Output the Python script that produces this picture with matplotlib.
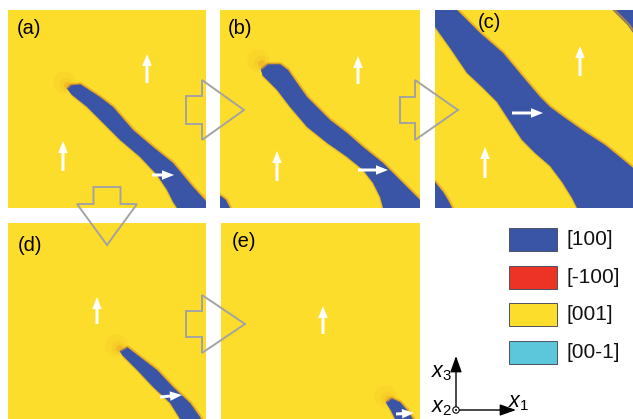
import matplotlib
matplotlib.use("Agg")
import matplotlib.pyplot as plt
from matplotlib.patches import Polygon, Rectangle, Circle

plt.rcParams["font.family"] = ["Liberation Sans", "DejaVu Sans"]
plt.rcParams["mathtext.fontset"] = "custom"
plt.rcParams["mathtext.it"] = "Liberation Sans:italic"
plt.rcParams["mathtext.rm"] = "Liberation Sans"

W, H = 633, 419
YELLOW = "#FDDD2B"
BLUE = "#3A55A5"
RED = "#EC3326"
CYAN = "#5CC6DA"
EDGE = "#E69A22"
GREY = "#A3A3A3"

# panel boxes in image pixels: x0, y0, x1, y1
panel_names = ["(a)", "(b)", "(c)", "(d)", "(e)"]
panel_boxes = [(8, 10, 206, 208), (220, 10, 420, 208), (435, 10, 640, 208),
               (8, 223, 206, 421), (221, 223, 420, 421)]
label_pos = [(17, 29), (228, 29), (478, 23), (18, 245), (232, 241)]

# [100] domains (outlines in image pixels); "upper" is the orange-rimmed side
needle_a_upper = [(67, 88), (70, 85), (80, 84), (100, 97), (113, 107), (133, 130),
                  (153, 147), (173, 163), (193, 187), (205, 200), (215, 214)]
needle_a_lower = [(178, 214), (177, 208), (173, 202), (167, 190), (157, 175),
                  (140, 157), (120, 140), (100, 120), (87, 107), (72, 95)]

needle_b_upper = [(261, 69), (267, 64), (280, 64), (288, 70), (297, 83), (307, 97),
                  (317, 107), (330, 120), (347, 133), (363, 147), (383, 163),
                  (400, 180), (413, 193), (420, 200), (426, 214)]
needle_b_lower = [(384, 214), (383, 208), (380, 197), (373, 183), (363, 170),
                  (347, 157), (327, 143), (307, 127), (290, 107), (277, 90), (263, 76)]
sliver_b = [(215, 194), (221, 196), (226, 200), (230, 208), (232, 214), (215, 214)]

band_c_upper = [(452, 4), (457, 10), (480, 33), (503, 53), (523, 77), (540, 97),
                (550, 107), (565, 118), (585, 132), (605, 145), (621, 158),
                (633, 168), (645, 176)]
band_c_lower = [(645, 214), (578, 214), (577, 208), (572, 198), (562, 182),
                (550, 166), (535, 153), (522, 140), (510, 122), (497, 102),
                (483, 88), (467, 73), (450, 48), (435, 27), (428, 18), (428, 4)]
corner_c_top = [(610, 4), (613, 10), (620, 17), (628, 25), (633, 32), (645, 42), (645, 4)]
corner_c_bottom = [(428, 178), (435, 182), (443, 192), (448, 200), (452, 208),
                   (454, 214), (428, 214)]

needle_d_upper = [(120, 351), (127, 347), (140, 357), (157, 370), (173, 387),
                  (190, 403), (200, 417), (204, 426)]
needle_d_lower = [(181, 426), (180, 419), (170, 403), (153, 387), (137, 370), (123, 356)]

needle_e_upper = [(386, 402), (391, 398), (400, 402), (407, 410), (413, 419), (416, 426)]
needle_e_lower = [(397, 426), (395, 419), (390, 409)]

tip_glow = [[(64, 82)], [(258, 60)], [], [(116, 345)], [(385, 396)]]

# white polarization arrows: tail -> head
white_arrows = [((147, 83), (147, 54)), ((63, 171), (63, 141)), ((152, 175), (174, 175)),
                ((358, 84), (358, 56)), ((277, 181), (277, 151)), ((358, 170), (388, 170)),
                ((512, 113), (543, 113)), ((580, 76), (580, 46)), ((485, 178), (485, 147)),
                ((97, 324), (97, 297)), ((160, 397), (182, 395)),
                ((323, 334), (323, 306)), ((396, 414), (414, 413))]

# hollow block arrows: tail pos, centre, shaft len, total len, shaft half, head half, dir
block_arrows = [(186, 110, 16, 58, 14, 30, "right"),
                (400, 110, 15, 58, 13, 30, "right"),
                (186, 324, 16, 59, 13, 29, "right"),
                (187, 107, 17, 58, 13.5, 30, "down")]

legend_labels = ["[100]", "[-100]", "[001]", "[00-1]"]
legend_colors = [BLUE, RED, YELLOW, CYAN]
legend_tops = [228, 266, 303, 341]

fig = plt.figure(figsize=(W / 100, H / 100), dpi=100)

domains = [
    [(needle_a_upper, needle_a_lower)],
    [(needle_b_upper, needle_b_lower), (sliver_b, [])],
    [(band_c_upper, band_c_lower), (corner_c_top, []), (corner_c_bottom, [])],
    [(needle_d_upper, needle_d_lower)],
    [(needle_e_upper, needle_e_lower)],
]

for box, parts, glows in zip(panel_boxes, domains, tip_glow):
    x0, y0, x1, y1 = box
    ax = fig.add_axes([x0 / W, 1 - y1 / H, (x1 - x0) / W, (y1 - y0) / H])
    ax.set_xlim(x0, x1)
    ax.set_ylim(y1, y0)
    ax.set_facecolor(YELLOW)
    ax.set_xticks([])
    ax.set_yticks([])
    for s in ax.spines.values():
        s.set_visible(False)
    for gx, gy in glows:
        ax.scatter([gx], [gy], s=260, color=EDGE, alpha=0.10, lw=0)
        ax.scatter([gx + 2], [gy + 2], s=90, color=EDGE, alpha=0.14, lw=0)
        ax.scatter([gx + 3], [gy + 3], s=25, color="#D86A2A", alpha=0.18, lw=0)
    for upper, lower in parts:
        ux = [p[0] + 0.9 for p in upper]
        uy = [p[1] - 0.6 for p in upper]
        ax.plot(ux, uy, color=EDGE, lw=1.5, alpha=0.65, solid_capstyle="round")
        if lower:
            lx = [p[0] - 0.6 for p in lower]
            ly = [p[1] + 0.4 for p in lower]
            ax.plot(lx, ly, color="#EFBE1E", lw=1.2, alpha=0.6)
        ax.add_patch(Polygon(upper + lower, closed=True, facecolor=BLUE,
                             edgecolor=BLUE, lw=0.5, joinstyle="round"))

# overlay in image pixels
ov = fig.add_axes([0, 0, 1, 1], zorder=10)
ov.set_xlim(0, W)
ov.set_ylim(H, 0)
ov.axis("off")
ov.patch.set_alpha(0)

for name, (lx, ly) in zip(panel_names, label_pos):
    ov.text(lx, ly, name, fontsize=14.5, ha="left", va="center", color="black")

for (tx, ty), (hx, hy) in white_arrows:
    ov.arrow(tx, ty, hx - tx, hy - ty, width=3.0, head_width=9.5, head_length=12,
             length_includes_head=True, color="white", lw=0)

for x0, c, sl, L, sh, hh, d in block_arrows:
    loc = [(0, -sh), (sl, -sh), (sl, -hh), (L, 0), (sl, hh), (sl, sh), (0, sh)]
    if d == "right":
        pts = [(x0 + u, c + v) for u, v in loc]
    else:
        pts = [(c + v, x0 + u) for u, v in loc]
    ov.add_patch(Polygon(pts, closed=True, facecolor="none", edgecolor=GREY,
                         lw=1.4, joinstyle="miter"))

for lab, col, top in zip(legend_labels, legend_colors, legend_tops):
    ov.add_patch(Rectangle((509, top), 48, 23, facecolor=col,
                           edgecolor="#4C5260", lw=0.7))
    ov.text(566, top + 11.5, lab, fontsize=15, ha="left", va="center", color="#111111")

# coordinate system
ox, oy = 456, 410
ov.annotate("", xy=(ox, 356), xytext=(ox, oy),
            arrowprops=dict(arrowstyle="-|>,head_length=0.7,head_width=0.25", lw=1.0,
                            color="black", mutation_scale=14, shrinkA=0, shrinkB=0))
ov.annotate("", xy=(516, oy), xytext=(ox, oy),
            arrowprops=dict(arrowstyle="-|>,head_length=0.7,head_width=0.25", lw=1.0,
                            color="black", mutation_scale=14, shrinkA=0, shrinkB=0))
ov.add_patch(Circle((ox, oy), 3.2, facecolor="white", edgecolor="black", lw=0.8, zorder=11))
ov.add_patch(Circle((ox, oy), 1.0, facecolor="black", edgecolor="none", zorder=12))
ov.text(431, 372, r"$x_3$", fontsize=15.5, ha="left", va="center")
ov.text(431, 407, r"$x_2$", fontsize=15.5, ha="left", va="center")
ov.text(508, 402, r"$x_1$", fontsize=15.5, ha="left", va="center")

fig.savefig("out.png", dpi=100, facecolor="white")
